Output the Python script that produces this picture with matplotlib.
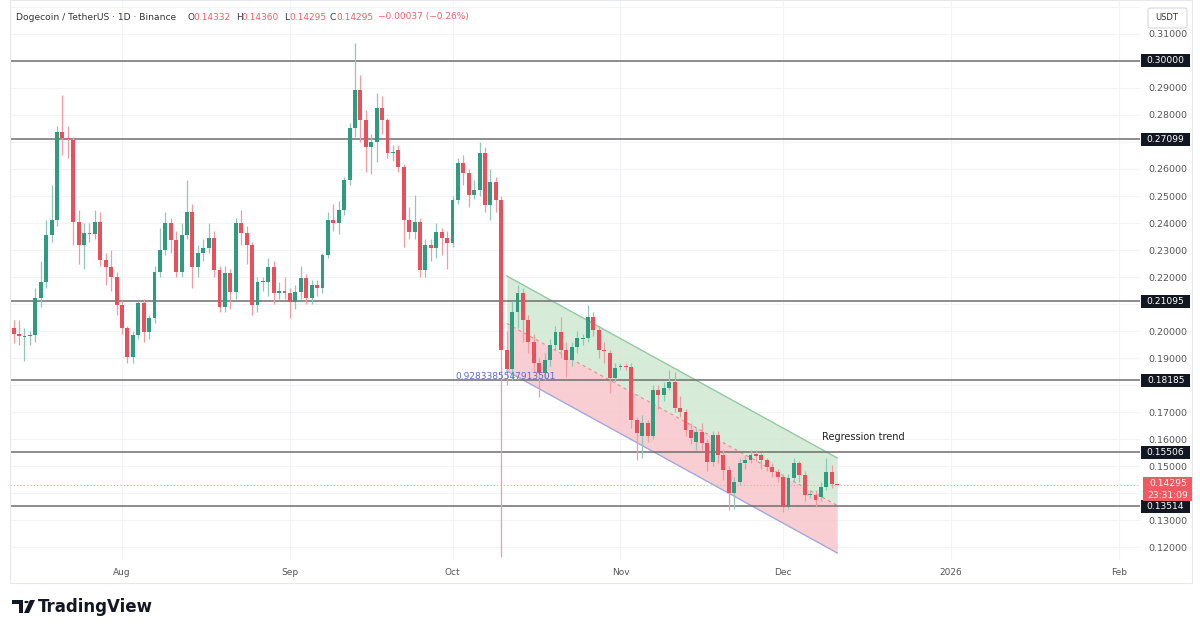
import numpy as np
import pandas as pd
import matplotlib
matplotlib.use('Agg')
import matplotlib.pyplot as plt
import matplotlib.dates as mdates
from matplotlib.patches import Rectangle, Polygon, Circle, FancyBboxPatch
from matplotlib.transforms import blended_transform_factory

# DOGE/USDT daily candles
dates = pd.date_range('2025-07-12', periods=153, freq='D')

opens = [
    0.2010, 0.1990, 0.1978, 0.1982, 0.1985, 0.2122, 0.2180, 0.2356, 0.2410, 0.2737,
    0.2715, 0.2707, 0.2404, 0.2319, 0.2363, 0.2360, 0.2404, 0.2263, 0.2237, 0.2200,
    0.2096, 0.2011, 0.1904, 0.1985, 0.2104, 0.1996, 0.2048, 0.2219, 0.2300, 0.2400,
    0.2337, 0.2219, 0.2356, 0.2441, 0.2237, 0.2289, 0.2307, 0.2344, 0.2226, 0.2089,
    0.2215, 0.2144, 0.2400, 0.2363, 0.2319, 0.2096, 0.2181, 0.2181, 0.2237, 0.2141,
    0.2148, 0.2141, 0.2107, 0.2144, 0.2196, 0.2122, 0.2170, 0.2159, 0.2281, 0.2411,
    0.2400, 0.2448, 0.2559, 0.2752, 0.2893, 0.2781, 0.2681, 0.2700, 0.2826, 0.2781,
    0.2659, 0.2670, 0.2607, 0.2411, 0.2367, 0.2404, 0.2226, 0.2319, 0.2307, 0.2367,
    0.2344, 0.2326, 0.2485, 0.2622, 0.2585, 0.2504, 0.2522, 0.2659, 0.2467, 0.2552,
    0.2485, 0.1930, 0.1860, 0.2070, 0.2141, 0.2041, 0.1959, 0.1881, 0.1844, 0.1893,
    0.1948, 0.1996, 0.1930, 0.1893, 0.1941, 0.1970, 0.1974, 0.2052, 0.2004, 0.1930,
    0.1919, 0.1826, 0.1866, 0.1870, 0.1866, 0.1670, 0.1610, 0.1660, 0.1610, 0.1781,
    0.1763, 0.1789, 0.1811, 0.1715, 0.1700, 0.1633, 0.1590, 0.1626, 0.1585, 0.1515,
    0.1615, 0.1541, 0.1485, 0.1400, 0.1441, 0.1511, 0.1522, 0.1544, 0.1541, 0.1522,
    0.1496, 0.1478, 0.1459, 0.1348, 0.1456, 0.1511, 0.1467, 0.1393, 0.1393, 0.1385,
    0.1422, 0.1478, 0.14332,
]
closes = [
    0.1990, 0.1980, 0.1982, 0.1985, 0.2122, 0.2180, 0.2356, 0.2410, 0.2737, 0.2715,
    0.2710, 0.2404, 0.2319, 0.2363, 0.2360, 0.2404, 0.2263, 0.2237, 0.2200, 0.2096,
    0.2011, 0.1904, 0.1985, 0.2104, 0.1996, 0.2048, 0.2219, 0.2300, 0.2400, 0.2337,
    0.2219, 0.2356, 0.2441, 0.2237, 0.2289, 0.2307, 0.2344, 0.2226, 0.2089, 0.2215,
    0.2144, 0.2400, 0.2363, 0.2319, 0.2096, 0.2181, 0.2181, 0.2237, 0.2141, 0.2148,
    0.2141, 0.2107, 0.2144, 0.2196, 0.2122, 0.2170, 0.2159, 0.2281, 0.2411, 0.2400,
    0.2448, 0.2559, 0.2752, 0.2893, 0.2781, 0.2681, 0.2700, 0.2826, 0.2781, 0.2659,
    0.2663, 0.2607, 0.2411, 0.2367, 0.2404, 0.2226, 0.2319, 0.2307, 0.2367, 0.2344,
    0.2326, 0.2485, 0.2622, 0.2585, 0.2504, 0.2522, 0.2659, 0.2467, 0.2552, 0.2485,
    0.1930, 0.1860, 0.2070, 0.2141, 0.2041, 0.1959, 0.1881, 0.1844, 0.1893, 0.1948,
    0.1996, 0.1930, 0.1893, 0.1941, 0.1974, 0.1974, 0.2052, 0.2004, 0.1930, 0.1926,
    0.1826, 0.1863, 0.1870, 0.1866, 0.1670, 0.1622, 0.1660, 0.1610, 0.1781, 0.1763,
    0.1789, 0.1811, 0.1715, 0.1700, 0.1633, 0.1604, 0.1626, 0.1585, 0.1515, 0.1615,
    0.1541, 0.1485, 0.1400, 0.1441, 0.1511, 0.1522, 0.1541, 0.1537, 0.1522, 0.1496,
    0.1478, 0.1459, 0.1348, 0.1456, 0.1511, 0.1467, 0.1393, 0.1393, 0.1374, 0.1422,
    0.1478, 0.14332, 0.14295,
]
highs = [
    0.2040, 0.2040, 0.2010, 0.2000, 0.2160, 0.2260, 0.2410, 0.2540, 0.2760, 0.2874,
    0.2760, 0.2720, 0.2450, 0.2400, 0.2400, 0.2450, 0.2440, 0.2290, 0.2300, 0.2220,
    0.2110, 0.2020, 0.2000, 0.2110, 0.2120, 0.2060, 0.2240, 0.2380, 0.2440, 0.2420,
    0.2370, 0.2400, 0.2559, 0.2470, 0.2320, 0.2340, 0.2400, 0.2370, 0.2240, 0.2240,
    0.2230, 0.2420, 0.2448, 0.2390, 0.2330, 0.2200, 0.2200, 0.2270, 0.2260, 0.2180,
    0.2200, 0.2160, 0.2170, 0.2240, 0.2210, 0.2190, 0.2190, 0.2290, 0.2440, 0.2470,
    0.2480, 0.2570, 0.2770, 0.3067, 0.2948, 0.2820, 0.2730, 0.2880, 0.2870, 0.2790,
    0.2690, 0.2690, 0.2620, 0.2460, 0.2504, 0.2420, 0.2340, 0.2340, 0.2400, 0.2380,
    0.2370, 0.2500, 0.2640, 0.2650, 0.2600, 0.2560, 0.2700, 0.2680, 0.2600, 0.2570,
    0.2500, 0.2000, 0.2110, 0.2170, 0.2160, 0.2060, 0.1990, 0.1900, 0.1920, 0.1970,
    0.2020, 0.2052, 0.1960, 0.1960, 0.2000, 0.1990, 0.2096, 0.2070, 0.2020, 0.1960,
    0.1930, 0.1880, 0.1880, 0.1880, 0.1880, 0.1680, 0.1690, 0.1670, 0.1800, 0.1800,
    0.1810, 0.1856, 0.1850, 0.1760, 0.1710, 0.1660, 0.1640, 0.1660, 0.1600, 0.1630,
    0.1630, 0.1560, 0.1500, 0.1460, 0.1530, 0.1540, 0.1560, 0.1560, 0.1550, 0.1530,
    0.1510, 0.1490, 0.1470, 0.1470, 0.1530, 0.1520, 0.1480, 0.1410, 0.1410, 0.1440,
    0.1530, 0.1505, 0.14360,
]
lows = [
    0.1956, 0.1950, 0.1890, 0.1950, 0.1960, 0.2090, 0.2160, 0.2330, 0.2390, 0.2650,
    0.2640, 0.2320, 0.2250, 0.2230, 0.2330, 0.2340, 0.2240, 0.2170, 0.2150, 0.2060,
    0.1990, 0.1880, 0.1880, 0.1970, 0.1960, 0.1970, 0.2030, 0.2200, 0.2280, 0.2290,
    0.2200, 0.2200, 0.2340, 0.2160, 0.2200, 0.2260, 0.2290, 0.2200, 0.2070, 0.2070,
    0.2080, 0.2120, 0.2320, 0.2250, 0.2060, 0.2070, 0.2150, 0.2130, 0.2100, 0.2120,
    0.2120, 0.2048, 0.2080, 0.2120, 0.2100, 0.2100, 0.2130, 0.2140, 0.2270, 0.2370,
    0.2360, 0.2430, 0.2540, 0.2720, 0.2700, 0.2590, 0.2580, 0.2626, 0.2730, 0.2640,
    0.2630, 0.2590, 0.2311, 0.2340, 0.2340, 0.2200, 0.2200, 0.2260, 0.2270, 0.2280,
    0.2230, 0.2310, 0.2470, 0.2540, 0.2460, 0.2490, 0.2500, 0.2440, 0.2411, 0.2440,
    0.1163, 0.1800, 0.1820, 0.2010, 0.1960, 0.1920, 0.1850, 0.1756, 0.1820, 0.1870,
    0.1930, 0.1900, 0.1830, 0.1870, 0.1920, 0.1950, 0.1960, 0.1980, 0.1900, 0.1880,
    0.1770, 0.1810, 0.1855, 0.1855, 0.1640, 0.1522, 0.1530, 0.1590, 0.1600, 0.1710,
    0.1740, 0.1780, 0.1700, 0.1680, 0.1610, 0.1580, 0.1560, 0.1560, 0.1480, 0.1500,
    0.1510, 0.1450, 0.1337, 0.1340, 0.1430, 0.1490, 0.1510, 0.1520, 0.1490, 0.1480,
    0.1460, 0.1440, 0.1330, 0.1340, 0.1440, 0.1440, 0.1370, 0.1380, 0.1350, 0.1370,
    0.1410, 0.1420, 0.14295,
]

# horizontal levels drawn on the chart
levels = [0.30000, 0.27099, 0.21095, 0.18185, 0.15506, 0.13514]
last_price = 0.14295
countdown = '23:31:09'

price_ticks = [0.31, 0.29, 0.28, 0.26, 0.25, 0.24, 0.23, 0.22, 0.20, 0.19,
               0.17, 0.16, 0.15, 0.13, 0.12]
grid_prices = [0.12, 0.13, 0.14, 0.15, 0.16, 0.17, 0.18, 0.19, 0.20, 0.21, 0.22,
               0.23, 0.24, 0.25, 0.26, 0.27, 0.28, 0.29, 0.30, 0.31, 0.32]
month_ticks = ['2025-08-01', '2025-09-01', '2025-10-01', '2025-11-01',
               '2025-12-01', '2026-01-01', '2026-02-01']
month_labels = ['Aug', 'Sep', 'Oct', 'Nov', 'Dec', '2026', 'Feb']

# regression trend channel (start / end)
reg_dates = ['2025-10-11', '2025-12-11']
reg_upper = [0.2204, 0.1530]
reg_lower = [0.1852, 0.1178]
pearson_r = '0.9283385547913501'

UP = '#2f9c80'
DOWN = '#e8505b'
UP_WICK = '#8fc8b7'
DOWN_WICK = '#f09ca2'
W, H = 1200, 641

fig = plt.figure(figsize=(12, 6.41), dpi=100)
fig.patch.set_facecolor('white')
ax = fig.add_axes([10 / W, 1 - 560 / H, 1130 / W, 560 / H])

x = mdates.date2num(dates)
o = np.array(opens)
c = np.array(closes)
up = c >= o
col = np.where(up, UP, DOWN)
wick_col = np.where(up, UP_WICK, DOWN_WICK)

# channel
rx = mdates.date2num(pd.to_datetime(reg_dates))
ru = np.array(reg_upper)
rl = np.array(reg_lower)
rm = (ru + rl) / 2
ax.fill_between(rx, rm, ru, color='#cfe9d2', alpha=0.85, lw=0, zorder=1)
ax.fill_between(rx, rl, rm, color='#f7c6cb', alpha=0.85, lw=0, zorder=1)
ax.plot(rx, ru, color='#93c9a0', lw=1.0, zorder=1.5)
ax.plot(rx, rl, color='#a3a9dc', lw=1.0, zorder=1.5)
ax.plot(rx, rm, color='#e88a8f', lw=0.8, ls=(0, (3, 3)), zorder=1.5)

# levels and current price line
for lv in levels:
    ax.axhline(lv, color='#6e6e6e', lw=1.1, zorder=2)
ax.axhline(last_price, color='#f2a58e', lw=0.8, ls=(0, (1, 2)), zorder=2)

# candles
ax.vlines(x, lows, highs, colors=wick_col, lw=0.9, zorder=3)
body = np.where(np.abs(c - o) < 0.0004, np.where(up, 0.0004, -0.0004), c - o)
ax.bar(x, body, bottom=o, width=0.72, color=col, lw=0, zorder=4)

ax.set_xlim(mdates.date2num(pd.Timestamp('2025-07-11')) + 0.33,
            mdates.date2num(pd.Timestamp('2026-02-01')) + 3.88)
ax.set_ylim(0.11519, 0.32259)

# grid
for gp in grid_prices:
    ax.axhline(gp, color='#f1f3f6', lw=0.8, zorder=0)
for mt in month_ticks:
    ax.axvline(mdates.date2num(pd.Timestamp(mt)), color='#f1f3f6', lw=0.8, zorder=0)

for s in ax.spines.values():
    s.set_visible(False)

ax.set_xticks(mdates.date2num(pd.to_datetime(month_ticks)))
ax.set_xticklabels(month_labels)
ax.tick_params(axis='x', length=0, pad=6, labelsize=6.5, labelcolor='#555555')
ax.yaxis.tick_right()
ax.set_yticks(price_ticks)
ax.set_yticklabels(['%.5f' % p for p in price_ticks])
ax.tick_params(axis='y', length=0, pad=6, labelsize=6.8, labelcolor='#555555')

# price axis boxes
tr = blended_transform_factory(ax.transAxes, ax.transData)
bw = 49 / 1130
bh = 13 / 2700
for lv in levels:
    ax.add_patch(Rectangle((1.001, lv - bh / 2), bw, bh, transform=tr,
                           facecolor='#131722', edgecolor='none', clip_on=False, zorder=6))
    ax.text(1.001 + bw / 2, lv, '%.5f' % lv, transform=tr, color='white', fontsize=6.6,
            ha='center', va='center', clip_on=False, zorder=7)
rb_top = last_price + 8 / 2700
rb_h = 24 / 2700
ax.add_patch(Rectangle((1.003, rb_top - rb_h), 49 / 1130, rb_h, transform=tr,
                       facecolor='#ec5a62', edgecolor='none', clip_on=False, zorder=8))
ax.text(1.003 + 24.5 / 1130, last_price + 2 / 2700, '%.5f' % last_price, transform=tr,
        color='white', fontsize=6.6, ha='center', va='center', clip_on=False, zorder=9)
ax.text(1.003 + 24.5 / 1130, last_price - 10 / 2700, countdown, transform=tr,
        color='white', fontsize=6.6, ha='center', va='center', clip_on=False, zorder=9)

# annotations
ax.text(rx[0] - 0.3, 0.1833, pearson_r, color='#5a6ccf', fontsize=6.5,
        ha='center', va='center', zorder=5)
ax.text(mdates.date2num(pd.Timestamp('2025-12-15')) + 0.8, 0.1607, 'Regression trend',
        color='#222222', fontsize=7, ha='center', va='center', zorder=5)


def fx(px):
    return px / W


def fy(py):
    return 1 - py / H


# header
fig.text(fx(16), fy(17), 'Dogecoin / TetherUS \u00b7 1D \u00b7 Binance', fontsize=6.6,
         color='#333333', va='center')
hdr = [(188, 'O', '#333333'), (193, '0.14332', '#e8636b'),
       (236, 'H', '#333333'), (241, '0.14360', '#e8636b'),
       (284, 'L', '#333333'), (289, '0.14295', '#e8636b'),
       (330, 'C', '#333333'), (336, '0.14295', '#e8636b'),
       (378, '\u22120.00037 (\u22120.26%)', '#e8636b')]
for px, t, cc in hdr:
    fig.text(fx(px), fy(17), t, fontsize=6.5, color=cc, va='center')

# USDT box
fig.patches.append(FancyBboxPatch((fx(1148), fy(28)), fx(39), 20 / H,
                                  boxstyle='round,pad=0,rounding_size=0.003',
                                  transform=fig.transFigure, facecolor='white',
                                  edgecolor='#d6d9e0', lw=0.8))
fig.text(fx(1167), fy(18), 'USDT', fontsize=6, color='#333333', ha='center', va='center')

# panel border
fig.patches.append(Rectangle((fx(10), fy(583)), fx(1182), 583 / H, transform=fig.transFigure,
                             facecolor='none', edgecolor='#e6e8ec', lw=0.8))

# TradingView logo
fig.patches.append(Polygon([(fx(12), fy(600)), (fx(23), fy(600)), (fx(23), fy(613)),
                            (fx(19), fy(613)), (fx(19), fy(604)), (fx(12), fy(604))],
                           closed=True, transform=fig.transFigure, facecolor='#131722'))
fig.patches.append(Circle((fx(26.5), fy(602)), 2.2 / W, transform=fig.transFigure,
                          facecolor='#131722'))
fig.patches.append(Polygon([(fx(30), fy(600)), (fx(35), fy(600)), (fx(29), fy(613)),
                            (fx(24), fy(613))],
                           closed=True, transform=fig.transFigure, facecolor='#131722'))
fig.text(fx(38), fy(607), 'TradingView', fontsize=12, fontweight='bold',
         color='#131722', va='center')

fig.savefig('out.png', dpi=100, facecolor='white')
